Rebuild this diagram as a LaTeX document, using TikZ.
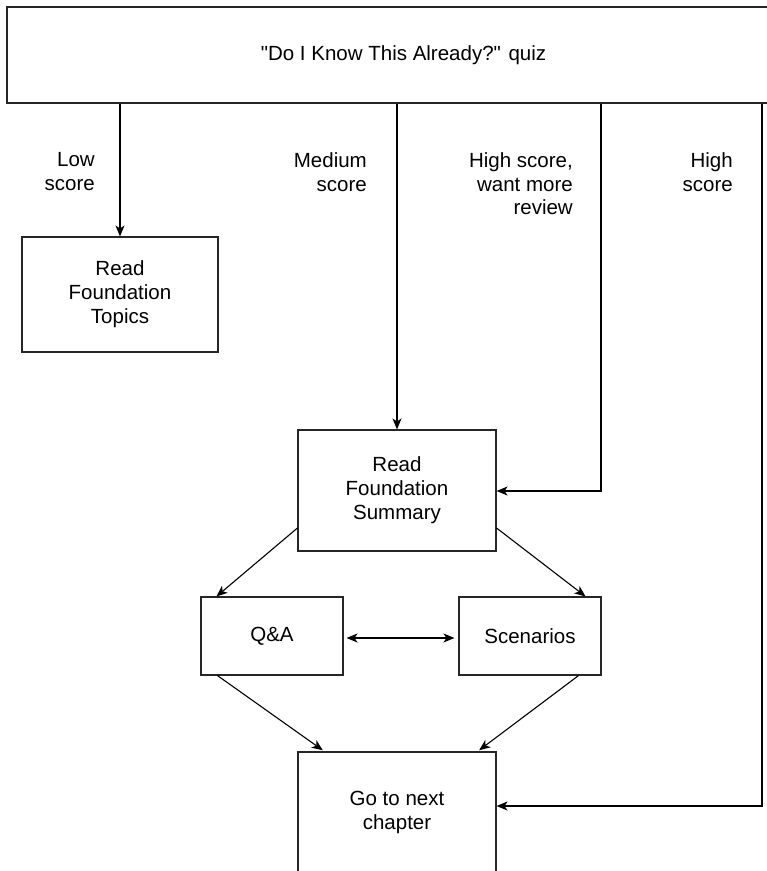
\documentclass[tikz,border=0pt]{standalone}
\usepackage{fontspec}
\setmainfont{Liberation Sans}
\usetikzlibrary{arrows.meta}
\begin{document}
\begin{tikzpicture}[x=1pt,y=-1pt,
  box/.style={draw=black!85, line width=1.1pt, rectangle, align=center, inner sep=0pt,
    font=\fontsize{20.5}{24}\selectfont},
  lbl/.style={align=right, inner sep=0pt, anchor=north east,
    font=\fontsize{20.5}{23.5}\selectfont},
  arr/.style={line width=1.1pt, -{Stealth[length=11pt,width=9pt,inset=3pt]}},
  dbl/.style={line width=1.1pt, {Stealth[length=11pt,width=9pt,inset=3pt]}-{Stealth[length=11pt,width=9pt,inset=3pt]}}]
\useasboundingbox (0,0) rectangle (767,871);
\clip (0,0) rectangle (767,871);

\node[box, minimum width=793pt, minimum height=96pt] (quiz) at (403.5,55) {\textquotedbl Do I Know This Already?\textquotedbl{} quiz};
\node[box, minimum width=196pt, minimum height=115pt] (topics) at (120,294.5) {Read\\Foundation\\Topics};
\node[box, minimum width=198pt, minimum height=121pt] (summary) at (397,490.5) {Read\\Foundation\\Summary};
\node[box, minimum width=142pt, minimum height=78pt] (qa) at (272,636) {Q\&A};
\node[box, minimum width=142pt, minimum height=78pt] (scen) at (530,636) {Scenarios};
\node[box, minimum width=198pt, minimum height=120pt] (next) at (397,812) {Go to next\\chapter};

\node[lbl] (lowlbl) at (95,152.5) {Low\\score};
\node[lbl] (medlbl) at (367,152.5) {Medium\\score};
\node[lbl] (hwlbl) at (573,152.5) {High score,\\want more\\review};
\node[lbl] (hilbl) at (733,152.5) {High\\score};

\draw[arr] (topics.north |- quiz.south) -- (topics.north);
\draw[arr] (summary.north |- quiz.south) -- (summary.north);
\coordinate (hwcorner) at (601,491);
\draw[arr] (quiz.south -| hwcorner) -- (hwcorner) -- (hwcorner -| summary.east);
\coordinate (hcorner) at (762,806);
\draw[arr] (quiz.south -| hcorner) -- (hcorner) -- (hcorner -| next.east);

\draw[arr] ([yshift=-37.5pt]summary.west) -- ([xshift=16pt]qa.north west);
\draw[arr] ([yshift=-37.5pt]summary.east) -- ([xshift=-16pt]scen.north east);
\draw[dbl, shorten <=3pt, shorten >=4pt] ([yshift=-2pt]qa.east) -- ([yshift=-2pt]scen.west);
\draw[arr, shorten >=2pt] ([xshift=17pt]qa.south west) -- ([xshift=27pt]next.north west);
\draw[arr, shorten >=2pt] ([xshift=-23pt]scen.south east) -- ([xshift=-19pt]next.north east);
\end{tikzpicture}
\end{document}
